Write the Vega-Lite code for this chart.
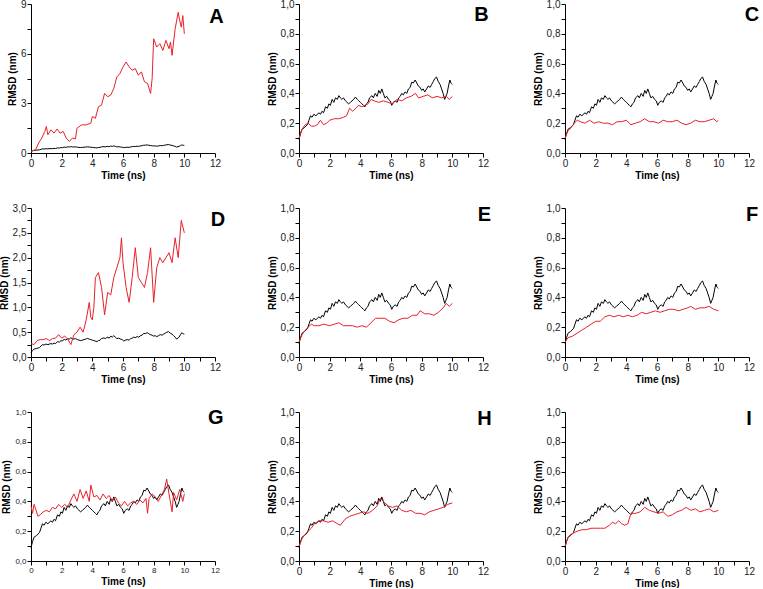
{
  "$schema": "https://vega.github.io/schema/vega-lite/v6.json",
  "padding": {"left": -1, "top": -1, "right": 0, "bottom": 0},
  "background": "white",
  "config": {
    "view": {"stroke": null},
    "font": "Liberation Sans",
    "axis": {"grid": false, "domainColor": "#000", "tickColor": "#000", "tickSize": 4, "tickCount": 30, "labelFontSize": 10, "labelColor": "#222", "titleFontSize": 10, "titleFontWeight": "bold", "titleColor": "#000", "labelFont": "Liberation Sans", "titleFont": "Liberation Sans", "labelOverlap": false, "labelFlush": false},
    "axisX": {"titlePadding": 2, "labelPadding": 1},
    "axisY": {"titlePadding": 3, "labelPadding": 1},
    "line": {"strokeWidth": 1, "interpolate": "linear"},
    "text": {"fontSize": 20, "fontWeight": "bold", "font": "Liberation Sans", "align": "center", "baseline": "middle", "color": "#000"}
  },
  "datasets": {
    "black": [
      {"t":0,"v":0.09},{"t":0.1,"v":0.13},{"t":0.2,"v":0.16},{"t":0.35,"v":0.17},{"t":0.55,"v":0.19},{"t":0.65,"v":0.22},{"t":0.75,"v":0.25},{"t":0.85,"v":0.24},{"t":0.97,"v":0.26},{"t":1.1,"v":0.25},{"t":1.3,"v":0.27},{"t":1.4,"v":0.26},{"t":1.5,"v":0.28},{"t":1.6,"v":0.27},{"t":1.73,"v":0.31},{"t":1.85,"v":0.3},{"t":1.95,"v":0.33},{"t":2.05,"v":0.32},{"t":2.16,"v":0.36},{"t":2.27,"v":0.34},{"t":2.38,"v":0.37},{"t":2.5,"v":0.36},{"t":2.6,"v":0.385},{"t":2.7,"v":0.37},{"t":2.8,"v":0.36},{"t":2.9,"v":0.37},{"t":3.03,"v":0.35},{"t":3.13,"v":0.34},{"t":3.24,"v":0.33},{"t":3.35,"v":0.34},{"t":3.46,"v":0.35},{"t":3.57,"v":0.36},{"t":3.68,"v":0.375},{"t":3.8,"v":0.36},{"t":3.9,"v":0.35},{"t":4.0,"v":0.34},{"t":4.1,"v":0.33},{"t":4.2,"v":0.32},{"t":4.3,"v":0.31},{"t":4.4,"v":0.33},{"t":4.5,"v":0.34},{"t":4.6,"v":0.37},{"t":4.76,"v":0.385},{"t":4.85,"v":0.37},{"t":4.97,"v":0.4},{"t":5.1,"v":0.38},{"t":5.2,"v":0.42},{"t":5.3,"v":0.4},{"t":5.4,"v":0.43},{"t":5.5,"v":0.4},{"t":5.6,"v":0.37},{"t":5.72,"v":0.38},{"t":5.84,"v":0.36},{"t":5.95,"v":0.35},{"t":6.05,"v":0.32},{"t":6.15,"v":0.34},{"t":6.27,"v":0.35},{"t":6.4,"v":0.34},{"t":6.5,"v":0.37},{"t":6.6,"v":0.38},{"t":6.7,"v":0.4},{"t":6.8,"v":0.39},{"t":6.92,"v":0.41},{"t":7.03,"v":0.4},{"t":7.14,"v":0.43},{"t":7.25,"v":0.44},{"t":7.35,"v":0.475},{"t":7.46,"v":0.47},{"t":7.57,"v":0.49},{"t":7.68,"v":0.47},{"t":7.78,"v":0.45},{"t":7.9,"v":0.44},{"t":8.0,"v":0.42},{"t":8.1,"v":0.43},{"t":8.2,"v":0.41},{"t":8.32,"v":0.43},{"t":8.43,"v":0.45},{"t":8.55,"v":0.44},{"t":8.65,"v":0.46},{"t":8.76,"v":0.48},{"t":8.86,"v":0.5},{"t":8.97,"v":0.51},{"t":9.08,"v":0.48},{"t":9.2,"v":0.46},{"t":9.3,"v":0.43},{"t":9.4,"v":0.4},{"t":9.5,"v":0.36},{"t":9.58,"v":0.38},{"t":9.66,"v":0.4},{"t":9.75,"v":0.45},{"t":9.84,"v":0.49},{"t":9.9,"v":0.47},{"t":9.95,"v":0.465},{"t":10.0,"v":0.46}
    ],
    "redA": [
      {"t":0,"v":0.1},{"t":0.3,"v":0.2},{"t":0.5,"v":0.6},{"t":0.7,"v":0.9},{"t":0.9,"v":1.3},{"t":1.0,"v":1.6},{"t":1.1,"v":1.1},{"t":1.3,"v":1.4},{"t":1.5,"v":1.2},{"t":1.7,"v":1.45},{"t":1.9,"v":1.2},{"t":2.1,"v":1.3},{"t":2.3,"v":0.9},{"t":2.5,"v":0.7},{"t":2.7,"v":0.9},{"t":2.9,"v":0.85},{"t":3.0,"v":1.5},{"t":3.3,"v":1.7},{"t":3.6,"v":1.7},{"t":3.9,"v":1.8},{"t":4.0,"v":2.2},{"t":4.2,"v":2.1},{"t":4.4,"v":2.8},{"t":4.6,"v":2.9},{"t":4.8,"v":3.6},{"t":5.0,"v":3.4},{"t":5.2,"v":3.5},{"t":5.4,"v":3.9},{"t":5.6,"v":4.6},{"t":5.8,"v":4.8},{"t":6.0,"v":5.2},{"t":6.2,"v":5.5},{"t":6.4,"v":5.2},{"t":6.6,"v":5.0},{"t":6.8,"v":5.1},{"t":7.0,"v":4.7},{"t":7.2,"v":4.9},{"t":7.4,"v":4.3},{"t":7.6,"v":4.2},{"t":7.8,"v":3.6},{"t":7.9,"v":4.5},{"t":8.0,"v":6.9},{"t":8.2,"v":6.4},{"t":8.4,"v":6.6},{"t":8.6,"v":6.2},{"t":8.8,"v":6.8},{"t":9.0,"v":6.3},{"t":9.1,"v":6.7},{"t":9.2,"v":5.9},{"t":9.4,"v":7.5},{"t":9.6,"v":8.5},{"t":9.7,"v":8.0},{"t":9.8,"v":7.6},{"t":9.9,"v":8.3},{"t":10.0,"v":7.2}
    ],
    "redB": [
      {"t":0,"v":0.1},{"t":0.2,"v":0.16},{"t":0.4,"v":0.19},{"t":0.6,"v":0.2},{"t":0.8,"v":0.18},{"t":1.0,"v":0.18},{"t":1.2,"v":0.19},{"t":1.4,"v":0.22},{"t":1.6,"v":0.19},{"t":1.8,"v":0.2},{"t":2.0,"v":0.22},{"t":2.3,"v":0.23},{"t":2.6,"v":0.23},{"t":2.9,"v":0.24},{"t":3.1,"v":0.25},{"t":3.3,"v":0.3},{"t":3.5,"v":0.28},{"t":3.7,"v":0.3},{"t":3.9,"v":0.32},{"t":4.1,"v":0.31},{"t":4.3,"v":0.32},{"t":4.5,"v":0.33},{"t":4.7,"v":0.36},{"t":4.9,"v":0.35},{"t":5.2,"v":0.34},{"t":5.5,"v":0.35},{"t":5.8,"v":0.34},{"t":6.1,"v":0.33},{"t":6.4,"v":0.36},{"t":6.7,"v":0.35},{"t":7.0,"v":0.37},{"t":7.3,"v":0.38},{"t":7.6,"v":0.4},{"t":7.8,"v":0.37},{"t":8.1,"v":0.38},{"t":8.4,"v":0.39},{"t":8.7,"v":0.37},{"t":9.0,"v":0.38},{"t":9.3,"v":0.37},{"t":9.6,"v":0.38},{"t":9.8,"v":0.36},{"t":10.0,"v":0.38}
    ],
    "redC": [
      {"t":0,"v":0.1},{"t":0.2,"v":0.15},{"t":0.4,"v":0.17},{"t":0.6,"v":0.2},{"t":0.8,"v":0.22},{"t":1.0,"v":0.21},{"t":1.3,"v":0.2},{"t":1.6,"v":0.22},{"t":1.9,"v":0.2},{"t":2.2,"v":0.21},{"t":2.5,"v":0.2},{"t":2.8,"v":0.2},{"t":3.1,"v":0.19},{"t":3.4,"v":0.21},{"t":3.7,"v":0.21},{"t":4.0,"v":0.22},{"t":4.3,"v":0.19},{"t":4.6,"v":0.2},{"t":4.9,"v":0.21},{"t":5.2,"v":0.23},{"t":5.5,"v":0.21},{"t":5.8,"v":0.21},{"t":6.1,"v":0.2},{"t":6.4,"v":0.22},{"t":6.7,"v":0.21},{"t":7.0,"v":0.21},{"t":7.3,"v":0.22},{"t":7.6,"v":0.2},{"t":7.9,"v":0.19},{"t":8.2,"v":0.2},{"t":8.5,"v":0.22},{"t":8.8,"v":0.21},{"t":9.1,"v":0.21},{"t":9.4,"v":0.22},{"t":9.7,"v":0.23},{"t":9.9,"v":0.21},{"t":10.0,"v":0.22}
    ],
    "redD": [
      {"t":0,"v":0.27},{"t":0.2,"v":0.25},{"t":0.4,"v":0.33},{"t":0.6,"v":0.35},{"t":0.8,"v":0.35},{"t":1.0,"v":0.37},{"t":1.2,"v":0.33},{"t":1.4,"v":0.37},{"t":1.6,"v":0.38},{"t":1.8,"v":0.45},{"t":2.0,"v":0.38},{"t":2.2,"v":0.42},{"t":2.4,"v":0.36},{"t":2.6,"v":0.25},{"t":2.8,"v":0.45},{"t":3.0,"v":0.5},{"t":3.2,"v":0.6},{"t":3.4,"v":0.5},{"t":3.6,"v":0.75},{"t":3.8,"v":1.1},{"t":3.9,"v":0.8},{"t":4.0,"v":0.75},{"t":4.1,"v":1.0},{"t":4.2,"v":1.6},{"t":4.4,"v":1.7},{"t":4.6,"v":1.4},{"t":4.8,"v":0.85},{"t":5.0,"v":1.3},{"t":5.2,"v":1.25},{"t":5.4,"v":1.6},{"t":5.6,"v":1.8},{"t":5.8,"v":2.0},{"t":5.9,"v":2.4},{"t":6.0,"v":1.9},{"t":6.2,"v":1.4},{"t":6.4,"v":1.1},{"t":6.6,"v":1.6},{"t":6.8,"v":2.2},{"t":7.0,"v":1.6},{"t":7.2,"v":1.5},{"t":7.4,"v":1.4},{"t":7.6,"v":1.7},{"t":7.8,"v":2.2},{"t":8.0,"v":1.1},{"t":8.2,"v":1.8},{"t":8.4,"v":2.0},{"t":8.6,"v":1.9},{"t":8.8,"v":2.0},{"t":9.0,"v":2.1},{"t":9.2,"v":1.9},{"t":9.4,"v":2.4},{"t":9.6,"v":2.0},{"t":9.8,"v":2.75},{"t":10.0,"v":2.5}
    ],
    "redE": [
      {"t":0,"v":0.1},{"t":0.2,"v":0.15},{"t":0.4,"v":0.18},{"t":0.6,"v":0.2},{"t":0.8,"v":0.22},{"t":1.0,"v":0.21},{"t":1.3,"v":0.21},{"t":1.6,"v":0.22},{"t":2.0,"v":0.21},{"t":2.3,"v":0.22},{"t":2.6,"v":0.23},{"t":2.9,"v":0.21},{"t":3.2,"v":0.21},{"t":3.5,"v":0.21},{"t":3.8,"v":0.2},{"t":4.1,"v":0.21},{"t":4.4,"v":0.2},{"t":4.7,"v":0.23},{"t":5.0,"v":0.26},{"t":5.3,"v":0.26},{"t":5.6,"v":0.26},{"t":5.9,"v":0.24},{"t":6.2,"v":0.23},{"t":6.5,"v":0.25},{"t":6.8,"v":0.26},{"t":7.1,"v":0.26},{"t":7.4,"v":0.28},{"t":7.7,"v":0.28},{"t":7.9,"v":0.31},{"t":8.2,"v":0.29},{"t":8.5,"v":0.29},{"t":8.8,"v":0.28},{"t":9.1,"v":0.3},{"t":9.4,"v":0.33},{"t":9.6,"v":0.36},{"t":9.8,"v":0.34},{"t":10.0,"v":0.36}
    ],
    "redF": [
      {"t":0,"v":0.1},{"t":0.2,"v":0.13},{"t":0.5,"v":0.14},{"t":0.8,"v":0.16},{"t":1.1,"v":0.18},{"t":1.4,"v":0.2},{"t":1.7,"v":0.22},{"t":2.0,"v":0.24},{"t":2.3,"v":0.24},{"t":2.6,"v":0.27},{"t":2.9,"v":0.28},{"t":3.2,"v":0.27},{"t":3.5,"v":0.28},{"t":3.8,"v":0.27},{"t":4.1,"v":0.28},{"t":4.4,"v":0.27},{"t":4.7,"v":0.28},{"t":5.0,"v":0.3},{"t":5.3,"v":0.29},{"t":5.6,"v":0.3},{"t":5.9,"v":0.31},{"t":6.2,"v":0.3},{"t":6.5,"v":0.31},{"t":6.8,"v":0.32},{"t":7.1,"v":0.32},{"t":7.4,"v":0.31},{"t":7.7,"v":0.32},{"t":8.0,"v":0.33},{"t":8.2,"v":0.34},{"t":8.5,"v":0.32},{"t":8.8,"v":0.33},{"t":9.1,"v":0.33},{"t":9.4,"v":0.34},{"t":9.7,"v":0.32},{"t":10.0,"v":0.31}
    ],
    "redG": [
      {"t":0,"v":0.37},{"t":0.1,"v":0.32},{"t":0.2,"v":0.38},{"t":0.3,"v":0.35},{"t":0.45,"v":0.3},{"t":0.6,"v":0.31},{"t":0.8,"v":0.33},{"t":1.0,"v":0.34},{"t":1.2,"v":0.33},{"t":1.4,"v":0.36},{"t":1.6,"v":0.35},{"t":1.8,"v":0.38},{"t":2.0,"v":0.36},{"t":2.2,"v":0.38},{"t":2.4,"v":0.36},{"t":2.6,"v":0.41},{"t":2.8,"v":0.45},{"t":3.0,"v":0.4},{"t":3.2,"v":0.48},{"t":3.4,"v":0.42},{"t":3.6,"v":0.47},{"t":3.8,"v":0.4},{"t":3.9,"v":0.51},{"t":4.1,"v":0.43},{"t":4.3,"v":0.44},{"t":4.5,"v":0.41},{"t":4.7,"v":0.45},{"t":4.9,"v":0.42},{"t":5.1,"v":0.44},{"t":5.3,"v":0.4},{"t":5.5,"v":0.43},{"t":5.7,"v":0.39},{"t":5.9,"v":0.37},{"t":6.1,"v":0.4},{"t":6.3,"v":0.37},{"t":6.5,"v":0.39},{"t":6.7,"v":0.4},{"t":6.9,"v":0.38},{"t":7.1,"v":0.41},{"t":7.3,"v":0.39},{"t":7.5,"v":0.42},{"t":7.6,"v":0.32},{"t":7.7,"v":0.42},{"t":7.9,"v":0.45},{"t":8.1,"v":0.43},{"t":8.3,"v":0.4},{"t":8.5,"v":0.44},{"t":8.7,"v":0.48},{"t":8.85,"v":0.55},{"t":9.0,"v":0.45},{"t":9.2,"v":0.33},{"t":9.3,"v":0.46},{"t":9.5,"v":0.41},{"t":9.7,"v":0.48},{"t":9.9,"v":0.4},{"t":10.0,"v":0.45}
    ],
    "redH": [
      {"t":0,"v":0.1},{"t":0.2,"v":0.15},{"t":0.4,"v":0.18},{"t":0.6,"v":0.2},{"t":0.8,"v":0.22},{"t":1.0,"v":0.25},{"t":1.3,"v":0.27},{"t":1.6,"v":0.27},{"t":1.9,"v":0.26},{"t":2.2,"v":0.27},{"t":2.5,"v":0.25},{"t":2.7,"v":0.24},{"t":3.0,"v":0.28},{"t":3.3,"v":0.3},{"t":3.6,"v":0.31},{"t":3.9,"v":0.32},{"t":4.2,"v":0.33},{"t":4.5,"v":0.32},{"t":4.8,"v":0.34},{"t":5.1,"v":0.37},{"t":5.3,"v":0.42},{"t":5.5,"v":0.4},{"t":5.8,"v":0.37},{"t":6.1,"v":0.36},{"t":6.4,"v":0.37},{"t":6.7,"v":0.34},{"t":7.0,"v":0.33},{"t":7.3,"v":0.34},{"t":7.6,"v":0.32},{"t":7.9,"v":0.32},{"t":8.2,"v":0.31},{"t":8.5,"v":0.33},{"t":8.8,"v":0.34},{"t":9.1,"v":0.35},{"t":9.4,"v":0.36},{"t":9.7,"v":0.38},{"t":10.0,"v":0.39}
    ],
    "redI": [
      {"t":0,"v":0.1},{"t":0.2,"v":0.16},{"t":0.4,"v":0.18},{"t":0.6,"v":0.19},{"t":0.8,"v":0.2},{"t":1.1,"v":0.21},{"t":1.4,"v":0.21},{"t":1.7,"v":0.22},{"t":2.0,"v":0.22},{"t":2.3,"v":0.22},{"t":2.6,"v":0.22},{"t":2.9,"v":0.24},{"t":3.1,"v":0.26},{"t":3.3,"v":0.25},{"t":3.5,"v":0.27},{"t":3.7,"v":0.25},{"t":3.9,"v":0.24},{"t":4.1,"v":0.25},{"t":4.3,"v":0.32},{"t":4.6,"v":0.32},{"t":4.9,"v":0.33},{"t":5.2,"v":0.36},{"t":5.5,"v":0.34},{"t":5.8,"v":0.33},{"t":6.1,"v":0.32},{"t":6.4,"v":0.33},{"t":6.7,"v":0.3},{"t":7.0,"v":0.31},{"t":7.3,"v":0.33},{"t":7.6,"v":0.34},{"t":7.9,"v":0.36},{"t":8.2,"v":0.34},{"t":8.5,"v":0.35},{"t":8.8,"v":0.33},{"t":9.1,"v":0.34},{"t":9.4,"v":0.35},{"t":9.7,"v":0.33},{"t":10.0,"v":0.34}
    ]
  },
  "concat": [
    {"width":184,"height":149,"layer":[
      {"data":{"name":"black"},"mark":{"type":"line","color":"#000"},"encoding":{"x":{"field":"t","type":"quantitative","scale":{"domain":[0,12]},"axis":{"title":"Time (ns)","values":[0,1,2,3,4,5,6,7,8,9,10,11,12],"labelExpr":"datum.value % 2 == 0 ? format(datum.value, 'd') : ''","encode":{"ticks":{"update":{"y2":{"signal":"datum.value % 2 == 0 ? 4 : 2"}}}}}},"y":{"field":"v","type":"quantitative","scale":{"domain":[0,9]},"axis":{"title":"RMSD (nm)","values":[0,1.5,3,4.5,6,7.5,9],"labelExpr":"datum.value % 3 == 0 ? format(datum.value, 'd') : ''","encode":{"ticks":{"update":{"x2":{"signal":"datum.value % 3 == 0 ? -4 : -2"}}}}}}}},
      {"data":{"name":"redA"},"mark":{"type":"line","color":"#e8202a"},"encoding":{"x":{"field":"t","type":"quantitative"},"y":{"field":"v","type":"quantitative"}}},
      {"data":{"values":[{"label":"A"}]},"mark":{"type":"text","clip":false},"encoding":{"x":{"datum":12.1},"y":{"datum":8.2},"text":{"field":"label"}}}
    ]},
    {"width":184,"height":149,"layer":[
      {"data":{"name":"black"},"mark":{"type":"line","color":"#000"},"encoding":{"x":{"field":"t","type":"quantitative","scale":{"domain":[0,12]},"axis":{"title":"Time (ns)","values":[0,1,2,3,4,5,6,7,8,9,10,11,12],"labelExpr":"datum.value % 2 == 0 ? format(datum.value, 'd') : ''","encode":{"ticks":{"update":{"y2":{"signal":"datum.value % 2 == 0 ? 4 : 2"}}}}}},"y":{"field":"v","type":"quantitative","scale":{"domain":[0,1]},"axis":{"title":"RMSD (nm)","values":[0,0.1,0.2,0.3,0.4,0.5,0.6,0.7,0.8,0.9,1],"labelExpr":"round(datum.value*10) % 2 == 0 ? replace(format(datum.value, '.1f'), '.', ',') : ''","encode":{"ticks":{"update":{"x2":{"signal":"round(datum.value*10) % 2 == 0 ? -4 : -2"}}}}}}}},
      {"data":{"name":"redB"},"mark":{"type":"line","color":"#e8202a"},"encoding":{"x":{"field":"t","type":"quantitative"},"y":{"field":"v","type":"quantitative"}}},
      {"data":{"values":[{"label":"B"}]},"mark":{"type":"text","clip":false},"encoding":{"x":{"datum":11.9},"y":{"datum":0.925},"text":{"field":"label"}}}
    ]},
    {"width":184,"height":149,"layer":[
      {"data":{"name":"black"},"mark":{"type":"line","color":"#000"},"encoding":{"x":{"field":"t","type":"quantitative","scale":{"domain":[0,12]},"axis":{"title":"Time (ns)","values":[0,1,2,3,4,5,6,7,8,9,10,11,12],"labelExpr":"datum.value % 2 == 0 ? format(datum.value, 'd') : ''","encode":{"ticks":{"update":{"y2":{"signal":"datum.value % 2 == 0 ? 4 : 2"}}}}}},"y":{"field":"v","type":"quantitative","scale":{"domain":[0,1]},"axis":{"title":"RMSD (nm)","values":[0,0.1,0.2,0.3,0.4,0.5,0.6,0.7,0.8,0.9,1],"labelExpr":"round(datum.value*10) % 2 == 0 ? replace(format(datum.value, '.1f'), '.', ',') : ''","encode":{"ticks":{"update":{"x2":{"signal":"round(datum.value*10) % 2 == 0 ? -4 : -2"}}}}}}}},
      {"data":{"name":"redC"},"mark":{"type":"line","color":"#e8202a"},"encoding":{"x":{"field":"t","type":"quantitative"},"y":{"field":"v","type":"quantitative"}}},
      {"data":{"values":[{"label":"C"}]},"mark":{"type":"text","clip":false},"encoding":{"x":{"datum":12.2},"y":{"datum":0.925},"text":{"field":"label"}}}
    ]},
    {"width":184,"height":149,"layer":[
      {"data":{"name":"black"},"mark":{"type":"line","color":"#000"},"encoding":{"x":{"field":"t","type":"quantitative","scale":{"domain":[0,12]},"axis":{"title":"Time (ns)","values":[0,1,2,3,4,5,6,7,8,9,10,11,12],"labelExpr":"datum.value % 2 == 0 ? format(datum.value, 'd') : ''","encode":{"ticks":{"update":{"y2":{"signal":"datum.value % 2 == 0 ? 4 : 2"}}}}}},"y":{"field":"v","type":"quantitative","scale":{"domain":[0,3]},"axis":{"title":"RMSD (nm)","values":[0,0.25,0.5,0.75,1,1.25,1.5,1.75,2,2.25,2.5,2.75,3],"labelExpr":"round(datum.value*4) % 2 == 0 ? replace(format(datum.value, '.1f'), '.', ',') : ''","encode":{"ticks":{"update":{"x2":{"signal":"round(datum.value*4) % 2 == 0 ? -4 : -2"}}}}}}}},
      {"data":{"name":"redD"},"mark":{"type":"line","color":"#e8202a"},"encoding":{"x":{"field":"t","type":"quantitative"},"y":{"field":"v","type":"quantitative"}}},
      {"data":{"values":[{"label":"D"}]},"mark":{"type":"text","clip":false},"encoding":{"x":{"datum":12.2},"y":{"datum":2.76},"text":{"field":"label"}}}
    ]},
    {"width":184,"height":149,"layer":[
      {"data":{"name":"black"},"mark":{"type":"line","color":"#000"},"encoding":{"x":{"field":"t","type":"quantitative","scale":{"domain":[0,12]},"axis":{"title":"Time (ns)","values":[0,1,2,3,4,5,6,7,8,9,10,11,12],"labelExpr":"datum.value % 2 == 0 ? format(datum.value, 'd') : ''","encode":{"ticks":{"update":{"y2":{"signal":"datum.value % 2 == 0 ? 4 : 2"}}}}}},"y":{"field":"v","type":"quantitative","scale":{"domain":[0,1]},"axis":{"title":"RMSD (nm)","values":[0,0.1,0.2,0.3,0.4,0.5,0.6,0.7,0.8,0.9,1],"labelExpr":"round(datum.value*10) % 2 == 0 ? replace(format(datum.value, '.1f'), '.', ',') : ''","encode":{"ticks":{"update":{"x2":{"signal":"round(datum.value*10) % 2 == 0 ? -4 : -2"}}}}}}}},
      {"data":{"name":"redE"},"mark":{"type":"line","color":"#e8202a"},"encoding":{"x":{"field":"t","type":"quantitative"},"y":{"field":"v","type":"quantitative"}}},
      {"data":{"values":[{"label":"E"}]},"mark":{"type":"text","clip":false},"encoding":{"x":{"datum":12.1},"y":{"datum":0.95},"text":{"field":"label"}}}
    ]},
    {"width":184,"height":149,"layer":[
      {"data":{"name":"black"},"mark":{"type":"line","color":"#000"},"encoding":{"x":{"field":"t","type":"quantitative","scale":{"domain":[0,12]},"axis":{"title":"Time (ns)","values":[0,1,2,3,4,5,6,7,8,9,10,11,12],"labelExpr":"datum.value % 2 == 0 ? format(datum.value, 'd') : ''","encode":{"ticks":{"update":{"y2":{"signal":"datum.value % 2 == 0 ? 4 : 2"}}}}}},"y":{"field":"v","type":"quantitative","scale":{"domain":[0,1]},"axis":{"title":"RMSD (nm)","values":[0,0.1,0.2,0.3,0.4,0.5,0.6,0.7,0.8,0.9,1],"labelExpr":"round(datum.value*10) % 2 == 0 ? replace(format(datum.value, '.1f'), '.', ',') : ''","encode":{"ticks":{"update":{"x2":{"signal":"round(datum.value*10) % 2 == 0 ? -4 : -2"}}}}}}}},
      {"data":{"name":"redF"},"mark":{"type":"line","color":"#e8202a"},"encoding":{"x":{"field":"t","type":"quantitative"},"y":{"field":"v","type":"quantitative"}}},
      {"data":{"values":[{"label":"F"}]},"mark":{"type":"text","clip":false},"encoding":{"x":{"datum":12.2},"y":{"datum":0.95},"text":{"field":"label"}}}
    ]},
    {"width":184,"height":149,"layer":[
      {"data":{"name":"black"},"mark":{"type":"line","color":"#000"},"encoding":{"x":{"field":"t","type":"quantitative","scale":{"domain":[0,12]},"axis":{"title":"Time (ns)","labelFontSize":8,"values":[0,1,2,3,4,5,6,7,8,9,10,11,12],"labelExpr":"datum.value % 2 == 0 ? format(datum.value, 'd') : ''","encode":{"ticks":{"update":{"y2":{"signal":"datum.value % 2 == 0 ? 4 : 2"}}}}}},"y":{"field":"v","type":"quantitative","scale":{"domain":[0,1]},"axis":{"title":"RMSD (nm)","labelFontSize":8,"values":[0,0.1,0.2,0.3,0.4,0.5,0.6,0.7,0.8,0.9,1],"labelExpr":"round(datum.value*10) % 2 == 0 ? replace(format(datum.value, '.1f'), '.', ',') : ''","encode":{"ticks":{"update":{"x2":{"signal":"round(datum.value*10) % 2 == 0 ? -4 : -2"}}}}}}}},
      {"data":{"name":"redG"},"mark":{"type":"line","color":"#e8202a"},"encoding":{"x":{"field":"t","type":"quantitative"},"y":{"field":"v","type":"quantitative"}}},
      {"data":{"values":[{"label":"G"}]},"mark":{"type":"text","clip":false},"encoding":{"x":{"datum":12.05},"y":{"datum":0.96},"text":{"field":"label"}}}
    ]},
    {"width":184,"height":149,"layer":[
      {"data":{"name":"black"},"mark":{"type":"line","color":"#000"},"encoding":{"x":{"field":"t","type":"quantitative","scale":{"domain":[0,12]},"axis":{"title":"Time (ns)","values":[0,1,2,3,4,5,6,7,8,9,10,11,12],"labelExpr":"datum.value % 2 == 0 ? format(datum.value, 'd') : ''","encode":{"ticks":{"update":{"y2":{"signal":"datum.value % 2 == 0 ? 4 : 2"}}}}}},"y":{"field":"v","type":"quantitative","scale":{"domain":[0,1]},"axis":{"title":"RMSD (nm)","values":[0,0.1,0.2,0.3,0.4,0.5,0.6,0.7,0.8,0.9,1],"labelExpr":"round(datum.value*10) % 2 == 0 ? replace(format(datum.value, '.1f'), '.', ',') : ''","encode":{"ticks":{"update":{"x2":{"signal":"round(datum.value*10) % 2 == 0 ? -4 : -2"}}}}}}}},
      {"data":{"name":"redH"},"mark":{"type":"line","color":"#e8202a"},"encoding":{"x":{"field":"t","type":"quantitative"},"y":{"field":"v","type":"quantitative"}}},
      {"data":{"values":[{"label":"H"}]},"mark":{"type":"text","clip":false},"encoding":{"x":{"datum":12.1},"y":{"datum":0.95},"text":{"field":"label"}}}
    ]},
    {"width":184,"height":149,"layer":[
      {"data":{"name":"black"},"mark":{"type":"line","color":"#000"},"encoding":{"x":{"field":"t","type":"quantitative","scale":{"domain":[0,12]},"axis":{"title":"Time (ns)","values":[0,1,2,3,4,5,6,7,8,9,10,11,12],"labelExpr":"datum.value % 2 == 0 ? format(datum.value, 'd') : ''","encode":{"ticks":{"update":{"y2":{"signal":"datum.value % 2 == 0 ? 4 : 2"}}}}}},"y":{"field":"v","type":"quantitative","scale":{"domain":[0,1]},"axis":{"title":"RMSD (nm)","values":[0,0.1,0.2,0.3,0.4,0.5,0.6,0.7,0.8,0.9,1],"labelExpr":"round(datum.value*10) % 2 == 0 ? replace(format(datum.value, '.1f'), '.', ',') : ''","encode":{"ticks":{"update":{"x2":{"signal":"round(datum.value*10) % 2 == 0 ? -4 : -2"}}}}}}}},
      {"data":{"name":"redI"},"mark":{"type":"line","color":"#e8202a"},"encoding":{"x":{"field":"t","type":"quantitative"},"y":{"field":"v","type":"quantitative"}}},
      {"data":{"values":[{"label":"I"}]},"mark":{"type":"text","clip":false},"encoding":{"x":{"datum":12.0},"y":{"datum":0.95},"text":{"field":"label"}}}
    ]}
  ],
  "columns": 3,
  "spacing": {"row": 23, "column": 41}
}
